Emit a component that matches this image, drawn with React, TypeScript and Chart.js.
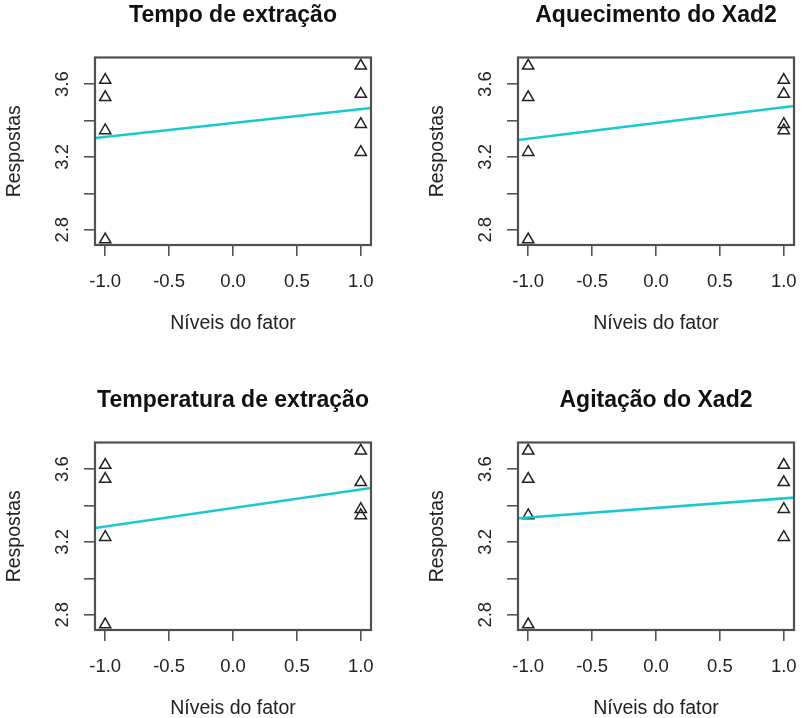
import React, { useEffect, useRef } from 'react';
import { Chart, registerables } from 'chart.js';

Chart.register(...registerables);

// ---- data ----
const panelTitles = [
  'Tempo de extração',
  'Aquecimento do Xad2',
  'Temperatura de extração',
  'Agitação do Xad2',
];
const xLevels = [-1, -1, -1, -1, 1, 1, 1, 1];
const respTempoExtracao = [3.622, 3.527, 3.345, 2.746, 3.70, 3.545, 3.38, 3.226];
const respAquecimentoXad2 = [3.70, 3.527, 3.226, 2.746, 3.622, 3.545, 3.38, 3.345];
const respTemperaturaExtracao = [3.622, 3.545, 3.226, 2.746, 3.70, 3.527, 3.38, 3.345];
const respAgitacaoXad2 = [3.70, 3.545, 3.345, 2.746, 3.622, 3.527, 3.38, 3.226];
const xTickValues = [-1, -0.5, 0, 0.5, 1];
const yTickValues = [2.8, 3.0, 3.2, 3.4, 3.6];
const yTickLabels = ['2.8', '', '3.2', '', '3.6'];
const xAxisTitle = 'Níveis do fator';
const yAxisTitle = 'Respostas';
const xRange = [-1.08, 1.08];
const yRange = [2.716, 3.746];

const FONT = '"Liberation Sans", Arial, Helvetica, sans-serif';
const CANVAS_W = 379;
const CANVAS_H = 340;

// least-squares fit line (like R's abline(lm(y ~ x))) spanning the plot range
function fitLine(xs: number[], ys: number[]) {
  const n = xs.length;
  const mx = xs.reduce((a, b) => a + b, 0) / n;
  const my = ys.reduce((a, b) => a + b, 0) / n;
  let sxy = 0;
  let sxx = 0;
  for (let i = 0; i < n; i++) {
    sxy += (xs[i] - mx) * (ys[i] - my);
    sxx += (xs[i] - mx) * (xs[i] - mx);
  }
  const slope = sxy / sxx;
  return xRange.map((x) => ({ x, y: my + slope * (x - mx) }));
}

const boxPlugin = {
  id: 'plotBox',
  afterDatasetsDraw(chart: any) {
    const { ctx, chartArea: a } = chart;
    ctx.save();
    ctx.strokeStyle = '#505050';
    ctx.lineWidth = 2.2;
    ctx.strokeRect(a.left, a.top, a.right - a.left, a.bottom - a.top);
    ctx.restore();
  },
};

function Panel({ title, values, left, top }: { title: string; values: number[]; left: number; top: number }) {
  const ref = useRef<HTMLCanvasElement | null>(null);

  useEffect(() => {
    if (!ref.current) return;
    const tickFont = { family: FONT, size: 18.5, lineHeight: 1.2 };
    const axisTitleFont = { family: FONT, size: 19.5, lineHeight: 1.2 };
    const chart = new Chart(ref.current, {
      type: 'scatter',
      data: {
        datasets: [
          {
            type: 'line',
            data: fitLine(xLevels, values),
            borderColor: '#19C9D0',
            borderWidth: 2.6,
            pointRadius: 0,
            fill: false,
            tension: 0,
          } as any,
          {
            type: 'scatter',
            data: xLevels.map((x, i) => ({ x, y: values[i] })),
            pointStyle: 'triangle',
            pointRadius: 6.5,
            pointBorderWidth: 1.5,
            pointBorderColor: '#222',
            pointBackgroundColor: 'rgba(0,0,0,0)',
            borderColor: '#222',
            backgroundColor: 'rgba(0,0,0,0)',
          } as any,
        ],
      },
      options: {
        responsive: false,
        animation: false,
        devicePixelRatio: 1,
        layout: { padding: { left: 0, right: 6, top: 0, bottom: 0 } },
        plugins: {
          legend: { display: false },
          tooltip: { enabled: false },
          title: {
            display: true,
            text: title,
            fullSize: false,
            color: '#111',
            font: { family: FONT, size: 23, weight: 'bold', lineHeight: 1.2 },
            padding: { top: 1.5, bottom: 28.4 },
          },
        },
        scales: {
          x: {
            type: 'linear',
            position: 'bottom',
            min: xRange[0],
            max: xRange[1],
            afterBuildTicks: (axis: any) => {
              axis.ticks = xTickValues.map((v) => ({ value: v }));
            },
            afterFit: (axis: any) => {
              axis.height = CANVAS_H - 245;
              axis.paddingLeft = 0;
              axis.paddingRight = 0;
              axis.paddingTop = 0;
              axis.paddingBottom = 0;
            },
            ticks: {
              autoSkip: false,
              minRotation: 0,
              maxRotation: 0,
              padding: 15.2,
              color: '#222',
              font: tickFont,
              callback: (v: any) => Number(v).toFixed(1),
            },
            grid: {
              display: true,
              drawOnChartArea: false,
              drawTicks: true,
              tickLength: 11,
              color: '#555',
              lineWidth: 1.6,
            },
            border: { display: false },
            title: {
              display: true,
              text: xAxisTitle,
              color: '#222',
              font: axisTitleFont,
              padding: { top: 0, bottom: 4.6 },
            },
          },
          y: {
            type: 'linear',
            position: 'left',
            min: yRange[0],
            max: yRange[1],
            afterBuildTicks: (axis: any) => {
              axis.ticks = yTickValues.map((v) => ({ value: v }));
            },
            afterFit: (axis: any) => {
              axis.width = 95;
              axis.paddingLeft = 0;
              axis.paddingRight = 0;
              axis.paddingTop = 0;
              axis.paddingBottom = 0;
            },
            ticks: {
              autoSkip: false,
              minRotation: 90,
              maxRotation: 90,
              crossAlign: 'center',
              padding: 8.6,
              color: '#222',
              font: tickFont,
              callback: (_v: any, i: number) => yTickLabels[i],
            },
            grid: {
              display: true,
              drawOnChartArea: false,
              drawTicks: true,
              tickLength: 11,
              color: '#555',
              lineWidth: 1.6,
            },
            border: { display: false },
            title: {
              display: true,
              text: yAxisTitle,
              color: '#222',
              font: axisTitleFont,
              padding: { top: 3, bottom: 0 },
            },
          },
        },
      } as any,
      plugins: [boxPlugin],
    });
    return () => chart.destroy();
  }, [title, values]);

  return (
    <canvas
      ref={ref}
      width={CANVAS_W}
      height={CANVAS_H}
      style={{ position: 'absolute', left, top, width: CANVAS_W, height: CANVAS_H, display: 'block' }}
    />
  );
}

export default function App() {
  return (
    <div
      style={{
        position: 'absolute',
        left: 0,
        top: 0,
        width: 803,
        height: 718,
        overflow: 'hidden',
        background: '#fff',
      }}
    >
      <Panel title={panelTitles[0]} values={respTempoExtracao} left={0} top={0} />
      <Panel title={panelTitles[1]} values={respAquecimentoXad2} left={423} top={0} />
      <Panel title={panelTitles[2]} values={respTemperaturaExtracao} left={0} top={385} />
      <Panel title={panelTitles[3]} values={respAgitacaoXad2} left={423} top={385} />
    </div>
  );
}
